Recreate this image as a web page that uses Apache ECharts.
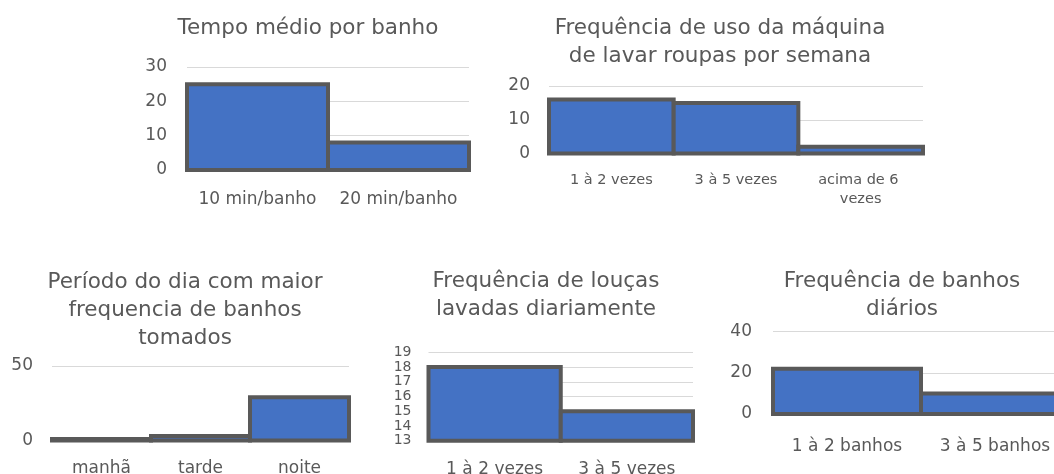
<!DOCTYPE html>
<html>
<head>
<meta charset="utf-8">
<script src="https://cdn.jsdelivr.net/npm/echarts@6/dist/echarts.min.js"></script>
<style>
  html, body { margin: 0; padding: 0; background: #ffffff; }
  #chart { width: 1054px; height: 474px; }
</style>
</head>
<body>
<div id="chart"></div>
<script>
// Survey results: water usage habits
const tempoCats = ['10 min/banho', '20 min/banho'];
const tempoVals = [25, 8];
const tempoTicks = { min: 0, max: 30, interval: 10 };

const maquinaCats = ['1 à 2 vezes', '3 à 5 vezes', 'acima de 6 vezes'];
const maquinaVals = [16, 15, 2];
const maquinaTicks = { min: 0, max: 20, interval: 10 };

const periodoCats = ['manhã', 'tarde', 'noite'];
const periodoVals = [1, 3, 29];
const periodoTicks = { min: 0, max: 50, interval: 50 };

const loucasCats = ['1 à 2 vezes', '3 à 5 vezes'];
const loucasVals = [18, 15];
const loucasTicks = { min: 13, max: 19, interval: 1 };

const banhosCats = ['1 à 2 banhos', '3 à 5 banhos'];
const banhosVals = [22, 10];
const banhosTicks = { min: 0, max: 40, interval: 20 };

const titles = [
  'Tempo médio por banho',
  'Frequência de uso da máquina\nde lavar roupas por semana',
  'Período do dia com maior\nfrequencia de banhos\ntomados',
  'Frequência de louças\nlavadas diariamente',
  'Frequência de banhos\ndiários'
];

const FONT = 'DejaVu Sans';
const TEXT = '#595959';
const GRID_LINE = '#d9d9d9';
const BAR_FILL = '#4472C4';
const BAR_EDGE = '#595959';

// panel layout: plot rectangle, title anchor and label sizes
const panels = [
  { cats: tempoCats,   vals: tempoVals,   ticks: tempoTicks,   grid: { left: 187, top: 67, width: 282, height: 103 },
    title: { x: 308, y: 14 },  yFont: 17,   yMargin: 20, xFont: 17,   xMargin: 21 },
  { cats: maquinaCats, vals: maquinaVals, ticks: maquinaTicks, grid: { left: 549, top: 86, width: 374, height: 67.5 },
    title: { x: 720, y: 14.5 }, yFont: 17,   yMargin: 19, xFont: 14.5, xMargin: 17, xWidth: 100, xLine: 19 },
  { cats: periodoCats, vals: periodoVals, ticks: periodoTicks, grid: { left: 52, top: 366, width: 297, height: 74.5 },
    title: { x: 185, y: 268.5 }, yFont: 17,  yMargin: 19, xFont: 17,   xMargin: 20 },
  { cats: loucasCats,  vals: loucasVals,  ticks: loucasTicks,  grid: { left: 428.5, top: 352.3, width: 264.5, height: 88.4 },
    title: { x: 546, y: 267 },  yFont: 14,   yMargin: 17, xFont: 17,   xMargin: 20 },
  { cats: banhosCats,  vals: banhosVals,  ticks: banhosTicks,  grid: { left: 773, top: 331.7, width: 296, height: 82.3 },
    title: { x: 902, y: 267.5 }, yFont: 17,  yMargin: 21, xFont: 17,   xMargin: 24 }
];

// Bars span the full category band; the outline is centred on the bar edges.
function barRenderer(baseValue) {
  return function (params, api) {
    const idx = api.value(0);
    const val = api.value(1);
    const topPt = api.coord([idx, val]);
    const basePt = api.coord([idx, baseValue]);
    const band = api.size([1, 0])[0];
    return {
      type: 'rect',
      shape: { x: topPt[0] - band / 2, y: topPt[1], width: band, height: basePt[1] - topPt[1] },
      style: { fill: BAR_FILL, stroke: BAR_EDGE, lineWidth: 4 }
    };
  };
}

const option = {
  backgroundColor: '#ffffff',
  animation: false,
  title: panels.map((p, i) => ({
    text: titles[i],
    left: p.title.x,
    top: p.title.y,
    padding: 0,
    textAlign: 'center',
    textVerticalAlign: 'top',
    textStyle: { fontFamily: FONT, fontSize: 21.5, fontWeight: 'normal', color: TEXT, lineHeight: 28 }
  })),
  grid: panels.map(p => Object.assign({ containLabel: false, outerBoundsMode: 'none' }, p.grid)),
  xAxis: panels.map((p, i) => ({
    type: 'category',
    gridIndex: i,
    data: p.cats,
    axisTick: { show: false },
    axisLine: { lineStyle: { color: GRID_LINE, width: 1 } },
    axisLabel: Object.assign({
      interval: 0,
      color: TEXT,
      fontFamily: FONT,
      fontSize: p.xFont,
      margin: p.xMargin
    }, p.xWidth ? { width: p.xWidth, overflow: 'break', lineHeight: p.xLine } : {})
  })),
  yAxis: panels.map((p, i) => ({
    type: 'value',
    gridIndex: i,
    min: p.ticks.min,
    max: p.ticks.max,
    interval: p.ticks.interval,
    axisLine: { show: false },
    axisTick: { show: false },
    splitLine: { lineStyle: { color: GRID_LINE, width: 1 } },
    axisLabel: {
      color: TEXT, fontFamily: FONT, fontSize: p.yFont, margin: p.yMargin,
      showMinLabel: true, showMaxLabel: true, hideOverlap: false
    }
  })),
  series: panels.map((p, i) => ({
    type: 'custom',
    xAxisIndex: i,
    yAxisIndex: i,
    data: p.vals.map((v, k) => [k, v]),
    encode: { x: 0, y: 1 },
    renderItem: barRenderer(p.ticks.min)
  }))
};

const chart = echarts.init(document.getElementById('chart'), null, { renderer: 'canvas' });
chart.setOption(option);
</script>
</body>
</html>
